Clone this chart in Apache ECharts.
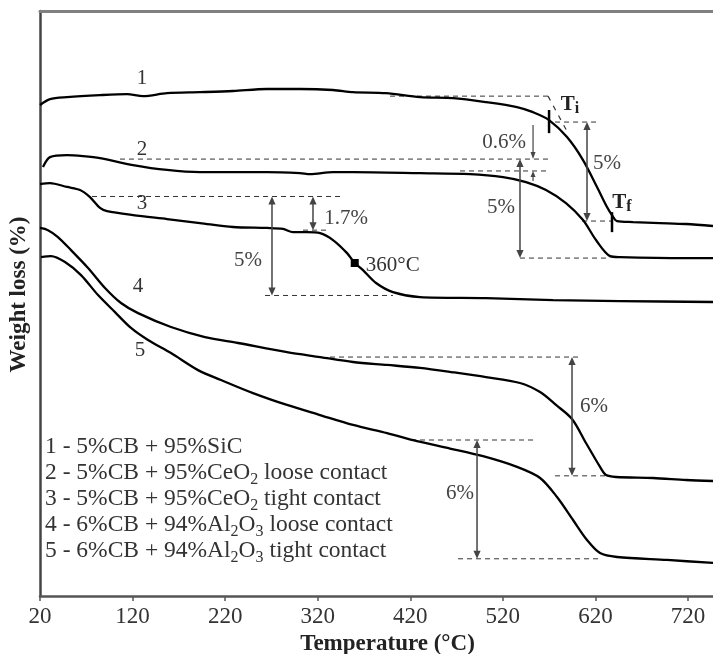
<!DOCTYPE html>
<html>
<head>
<meta charset="utf-8">
<script src="https://cdn.jsdelivr.net/npm/echarts@6/dist/echarts.min.js"></script>
<style>
  html, body { margin: 0; padding: 0; background: #fff; }
  #chart { width: 713px; height: 654px; }
</style>
</head>
<body>
<div id="chart"></div>
<script>
// Thermogravimetric curves: temperature (°C) vs relative weight level (%), curves offset vertically
const curve1 = [[20,24.80],[30.8,25.10],[49.2,25.20],[84.8,25.30],[114,25.35],[131.3,25.25],[157.2,25.40],[192.8,25.45],[228.5,25.51],[265.2,25.61],[300.9,25.61],[336.5,25.56],[358.1,25.45],[393.8,25.40],[430.5,25.20],[466.2,25.15],[501.8,24.95],[535.3,24.70],[552.6,24.44],[569.9,24.04],[589.3,23.18],[606.6,22.02],[621.7,20.66],[632.5,19.65],[637.9,19.24],[643.3,18.94],[660.6,18.89],[689.8,18.84],[717.9,18.79],[747,18.69]];
const curve2 = [[23.2,21.67],[30.8,22.17],[49.2,22.27],[66.5,22.22],[84.8,22.12],[120.5,21.77],[157.2,21.52],[192.8,21.41],[228.5,21.41],[265.2,21.41],[300.9,21.36],[311.7,21.31],[336.5,21.41],[358.1,21.41],[430.5,21.36],[484.5,21.31],[520.2,21.16],[545,20.91],[566.6,20.51],[588.2,19.85],[606.6,18.99],[620.6,17.98],[635.8,17.17],[646.6,17.12],[717.9,17.07],[747,17.07]];
const curve3 = [[20,20.81],[30.8,20.86],[49.2,20.66],[63.2,20.51],[74,20.15],[84.8,19.60],[92.4,19.44],[120.5,19.24],[157.2,19.04],[192.8,18.84],[228.5,18.64],[265.2,18.59],[282.5,18.54],[293.3,18.38],[308.4,18.38],[322.5,18.33],[336.5,17.98],[351.7,17.32],[360,16.82],[368.9,16.46],[383,15.81],[401.3,15.35],[430.5,15.10],[501.8,15.05],[574.2,14.95],[646.6,14.90],[747,14.85]];
const curve4 = [[20,18.59],[28.6,18.48],[39.4,18.13],[53.5,17.47],[71.9,16.57],[90.2,15.56],[107.5,14.80],[125.9,14.29],[161.5,13.59],[198.2,13.08],[233.9,12.78],[286.8,12.32],[322.5,12.07],[358.1,11.82],[394.9,11.67],[430.5,11.52],[466.2,11.30],[501.8,11.06],[538.5,10.76],[560.2,10.30],[577.4,9.65],[594.7,8.94],[609.8,7.73],[625,6.52],[631.5,6.11],[642.3,6.01],[682.2,5.96],[717.9,5.86],[747,5.81]];
const curve5 = [[21.1,17.12],[31.9,17.17],[47,16.87],[64.3,16.21],[82.7,15.20],[101,14.34],[118.3,13.54],[136.7,12.93],[161.5,12.27],[190.7,11.41],[215.5,10.91],[250.1,10.25],[286.8,9.65],[322.5,9.14],[358.1,8.64],[394.9,8.23],[427.3,7.82],[462.9,7.45],[498.6,7.06],[535.3,6.52],[560.2,5.96],[578.5,5.00],[595.8,3.84],[610.9,2.83],[625,2.17],[643.3,1.97],[697.3,1.82],[747,1.67]];

const xTicks = [20, 120, 220, 320, 420, 520, 620, 720];

// Weight-loss steps: [temperature, upper level, step %]
const steps = [[610.9, 23.94, 5], [538.5, 22.07, 5], [270.6, 20.18, 5], [314.9, 20.18, 1.7], [594.7, 12.07, 6], [492.1, 7.88, 6]];
// Where each step's label sits: [temperature, level]
const stepLabelPos = [[632.5, 21.87], [518.0, 19.60], [244.7, 16.97], [350.6, 19.09], [618.5, 9.55], [473.7, 5.20]];

// Small onset step of curve 2, shown with two inward arrows
const onsetStep = [552.6, 22.07, 0.6];
const onsetLabelPos = [521.3, 22.93];

// Dashed guide lines: [from temperature, to temperature, level]
const guides = [[398.1, 568.8, 25.25], [576.4, 621.7, 23.94], [605.5, 637.9, 18.94], [106.4, 568.8, 22.07], [473.7, 568.8, 21.47], [538.5, 635.8, 17.07], [76.2, 344.1, 20.18], [304.1, 333.3, 18.48], [263.1, 401.3, 15.18], [333.3, 604.4, 12.07], [576.4, 635.8, 6.07], [420.8, 552.6, 7.88], [471.6, 625.0, 1.88]];
// Tangent drawn on curve 1 to locate Ti
const tangent = [[568.8, 25.25], [590.4, 23.38]];

// Ti / Tf markers: [temperature, lower level, upper level]
const tMarks = [[569.9, 23.38, 24.55], [637.9, 18.38, 19.39]];
const tNames = ['i', 'f'];
const tLabelPos = [[592.6, 24.80], [648.7, 19.85]];

// Curve 3 inflection point
const inflection = [360, 16.82];

// Curve numbers: [temperature, level, text]
const curveNumbers = [[130.2, 26.16, '1'], [130.2, 22.53, '2'], [130.2, 19.85, '3'], [125.9, 15.61, '4'], [128.0, 12.42, '5']];

const legendLines = [
  ['1 - 5%CB + 95%SiC'],
  ['2 - 5%CB + 95%CeO', '2', ' loose contact'],
  ['3 - 5%CB + 95%CeO', '2', ' tight contact'],
  ['4 - 6%CB + 94%Al', '2', 'O', '3', ' loose contact'],
  ['5 - 6%CB + 94%Al', '2', 'O', '3', ' tight contact']
];

const SERIF = "'Liberation Serif', 'DejaVu Serif', serif";
const ANN = '#444';

const chart = echarts.init(document.getElementById('chart'), null, { renderer: 'canvas' });

function curveSeries(data) {
  return {
    type: 'line', data: data, showSymbol: false, smooth: 0.3,
    lineStyle: { color: '#000', width: 2.3 }, silent: true, z: 3
  };
}

function arrowHead(x, y, dir) {
  // dir = -1 tip points up, +1 tip points down
  const L = 8, H = 3.6;
  return { type: 'polygon', shape: { points: [[x, y], [x - H, y - dir * L], [x + H, y - dir * L]] }, style: { fill: ANN } };
}

const legendGraphics = legendLines.map(function (parts, i) {
  let txt = '';
  parts.forEach(function (p, k) { txt += (k % 2 === 0 ? '{a|' : '{s|') + p + '}'; });
  return {
    type: 'text', left: 45, top: 450 + i * 26 - 15,
    style: {
      text: txt, fill: '#333', font: '23.5px ' + SERIF,
      rich: {
        a: { fontSize: 23.5, fontFamily: SERIF, lineHeight: 30, verticalAlign: 'middle', fill: '#333' },
        s: { fontSize: 16, fontFamily: SERIF, lineHeight: 16, verticalAlign: 'bottom', fill: '#333' }
      }
    }
  };
});

const option = {
  animation: false,
  backgroundColor: '#fff',
  grid: { left: 40, right: 0, top: 11, bottom: 58, outerBoundsMode: 'none', containLabel: false },
  xAxis: [{
    type: 'value', min: 20, max: 747, interval: 100,
    axisLine: { show: true, onZero: false, lineStyle: { color: '#555', width: 2.5 } },
    axisTick: { show: true, length: 5, customValues: xTicks, lineStyle: { color: '#555', width: 1.5 } },
    axisLabel: { customValues: xTicks, margin: 9, color: '#333', fontSize: 23, fontFamily: SERIF },
    splitLine: { show: false },
    name: 'Temperature (°C)', nameLocation: 'middle', nameGap: 37,
    nameTextStyle: { fontFamily: SERIF, fontWeight: 'bold', fontSize: 23, color: '#222', padding: [0, 0, 0, 22] }
  }, {
    type: 'value', position: 'top', min: 20, max: 747,
    axisLine: { show: true, onZero: false, lineStyle: { color: '#808080', width: 3 } },
    axisTick: { show: false }, axisLabel: { show: false }, splitLine: { show: false }
  }],
  yAxis: {
    type: 'value', min: 0, max: 29.55,
    axisLine: { show: true, onZero: false, lineStyle: { color: '#444', width: 2.5 } },
    axisTick: { show: false }, axisLabel: { show: false }, splitLine: { show: false },
    name: 'Weight loss (%)', nameLocation: 'middle', nameGap: 9, nameRotate: 90,
    nameTextStyle: { fontFamily: SERIF, fontWeight: 'bold', fontSize: 23, color: '#222', padding: [0, 0, 0, 18] }
  },
  graphic: legendGraphics,
  series: [
    curveSeries(curve1), curveSeries(curve2), curveSeries(curve3), curveSeries(curve4), curveSeries(curve5),
    { // dashed guides
      type: 'custom', data: guides, silent: true, z: 2,
      renderItem: function (params, api) {
        const a = api.coord([api.value(0), api.value(2)]);
        const b = api.coord([api.value(1), api.value(2)]);
        return { type: 'line', shape: { x1: a[0], y1: a[1], x2: b[0], y2: b[1] }, style: { stroke: '#333', lineWidth: 1, lineDash: [5, 4] } };
      }
    },
    { // tangent to curve 1
      type: 'custom', data: [tangent[0].concat(tangent[1])], silent: true, z: 2,
      renderItem: function (params, api) {
        const a = api.coord([api.value(0), api.value(1)]);
        const b = api.coord([api.value(2), api.value(3)]);
        return { type: 'line', shape: { x1: a[0], y1: a[1], x2: b[0], y2: b[1] }, style: { stroke: '#333', lineWidth: 1.2, lineDash: [5, 6] } };
      }
    },
    { // double-headed step arrows with their labels
      type: 'custom', data: steps.map(function (s, i) { return s.concat(stepLabelPos[i]); }), silent: true, z: 4,
      renderItem: function (params, api) {
        const t = api.value(0), top = api.value(1), d = api.value(2);
        const p1 = api.coord([t, top]);
        const p2 = api.coord([t, top - d]);
        const lp = api.coord([api.value(3), api.value(4)]);
        return { type: 'group', children: [
          { type: 'line', shape: { x1: p1[0], y1: p1[1] + 4, x2: p2[0], y2: p2[1] - 4 }, style: { stroke: ANN, lineWidth: 1.5 } },
          arrowHead(p1[0], p1[1], -1),
          arrowHead(p2[0], p2[1], 1),
          { type: 'text', x: lp[0], y: lp[1], style: { text: d + '%', fill: ANN, font: '21px ' + SERIF, align: 'center', verticalAlign: 'middle' } }
        ] };
      }
    },
    { // onset step of curve 2
      type: 'custom', data: [onsetStep.concat(onsetLabelPos)], silent: true, z: 4,
      renderItem: function (params, api) {
        const t = api.value(0), top = api.value(1), d = api.value(2);
        const p1 = api.coord([t, top]);
        const p2 = api.coord([t, top - d]);
        const lp = api.coord([api.value(3), api.value(4)]);
        return { type: 'group', children: [
          { type: 'line', shape: { x1: p1[0], y1: p1[1] - 34, x2: p1[0], y2: p1[1] - 5 }, style: { stroke: ANN, lineWidth: 1.2 } },
          { type: 'polygon', shape: { points: [[p1[0], p1[1]], [p1[0] - 2.5, p1[1] - 7], [p1[0] + 2.5, p1[1] - 7]] }, style: { fill: ANN } },
          { type: 'line', shape: { x1: p2[0], y1: p2[1] + 10, x2: p2[0], y2: p2[1] + 4 }, style: { stroke: ANN, lineWidth: 1.2 } },
          { type: 'polygon', shape: { points: [[p2[0], p2[1]], [p2[0] - 2.5, p2[1] + 6], [p2[0] + 2.5, p2[1] + 6]] }, style: { fill: ANN } },
          { type: 'text', x: lp[0], y: lp[1], style: { text: d + '%', fill: ANN, font: '21px ' + SERIF, align: 'center', verticalAlign: 'middle' } }
        ] };
      }
    },
    { // Ti / Tf ticks and names
      type: 'custom', data: tMarks.map(function (m, i) { return m.concat(tLabelPos[i]); }), silent: true, z: 5,
      renderItem: function (params, api) {
        const t = api.value(0);
        const a = api.coord([t, api.value(1)]);
        const b = api.coord([t, api.value(2)]);
        const lp = api.coord([api.value(3), api.value(4)]);
        return { type: 'group', children: [
          { type: 'line', shape: { x1: a[0], y1: a[1], x2: b[0], y2: b[1] }, style: { stroke: '#000', lineWidth: 2.5 } },
          { type: 'text', x: lp[0], y: lp[1], style: {
            text: '{t|T}{s|' + tNames[params.dataIndex] + '}', align: 'center', verticalAlign: 'middle',
            rich: {
              t: { fontSize: 21, fontFamily: SERIF, fontWeight: 'bold', fill: '#222', lineHeight: 24, verticalAlign: 'middle' },
              s: { fontSize: 16, fontFamily: SERIF, fontWeight: 'bold', fill: '#222', lineHeight: 14, verticalAlign: 'bottom' }
            }
          } }
        ] };
      }
    },
    { // inflection marker on curve 3
      type: 'custom', data: [inflection], silent: true, z: 6,
      renderItem: function (params, api) {
        const p = api.coord([api.value(0), api.value(1)]);
        return { type: 'group', children: [
          { type: 'rect', shape: { x: p[0] - 4, y: p[1] - 4, width: 8, height: 8 }, style: { fill: '#000' } },
          { type: 'text', x: p[0] + 11, y: p[1] + 2, style: { text: api.value(0) + '°C', fill: '#333', font: '21px ' + SERIF, align: 'left', verticalAlign: 'middle' } }
        ] };
      }
    },
    { // curve numbers
      type: 'custom', data: curveNumbers, silent: true, z: 6,
      renderItem: function (params, api) {
        const p = api.coord([api.value(0), api.value(1)]);
        return { type: 'text', x: p[0], y: p[1], style: { text: curveNumbers[params.dataIndex][2], fill: '#333', font: '21px ' + SERIF, align: 'center', verticalAlign: 'middle' } };
      }
    }
  ]
};

chart.setOption(option);
</script>
</body>
</html>
